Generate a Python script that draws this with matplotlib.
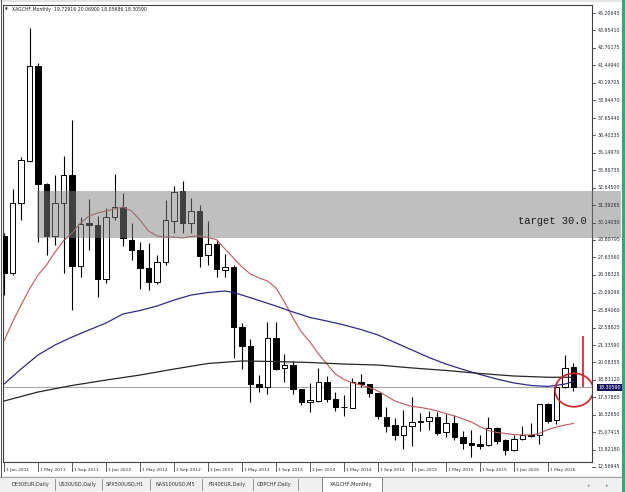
import matplotlib
matplotlib.use("Agg")
import matplotlib.pyplot as plt
from matplotlib.patches import Rectangle, Ellipse
from matplotlib.lines import Line2D
from matplotlib.transforms import blended_transform_factory

# ---------------- data (XAGCHF monthly, Jan 2011 .. Aug 2016) ----------------
opens = [29.18, 26.49, 31.53, 34.59, 41.42, 32.91, 29.18, 31.53, 33.56, 27.02,
         30.13, 29.96, 26.06, 30.52, 31.28, 28.89, 28.17, 26.85, 25.89, 27.28,
         30.25, 32.43, 30.09, 30.99, 27.79, 28.58, 26.73, 26.93, 22.65, 21.27,
         18.53, 18.34, 21.86, 19.66, 19.90, 18.15, 17.22, 17.34, 18.70, 17.48,
         16.90, 16.83, 18.66, 18.51, 17.87, 16.18, 15.59, 14.87, 15.54, 15.78,
         15.88, 16.18, 15.06, 15.75, 14.70, 14.27, 14.20, 14.15, 15.35, 14.51,
         13.79, 14.56, 14.87, 14.87, 17.08, 15.95, 18.30, 19.73]
highs = [29.40, 32.53, 34.88, 44.11, 41.63, 32.95, 33.56, 34.93, 37.51, 30.56,
         31.81, 30.61, 31.17, 33.63, 32.29, 30.09, 28.77, 28.69, 27.81, 31.76,
         32.77, 33.15, 31.89, 31.40, 30.28, 28.89, 27.88, 27.09, 22.90, 21.75,
         19.18, 23.01, 23.01, 20.69, 20.21, 18.20, 18.59, 19.66, 19.11, 17.98,
         17.74, 18.95, 19.23, 18.55, 17.90, 16.86, 16.07, 16.67, 17.58, 16.43,
         16.59, 16.54, 16.38, 16.31, 15.18, 15.23, 14.87, 16.14, 15.47, 14.56,
         14.87, 15.52, 15.75, 17.10, 17.19, 18.40, 20.62, 20.07]
lows = [24.93, 26.37, 30.33, 34.52, 28.77, 27.81, 28.53, 26.54, 23.86, 26.25,
        28.17, 24.77, 25.77, 30.33, 28.46, 27.45, 25.34, 25.29, 25.72, 27.09,
        29.37, 29.37, 29.37, 26.97, 27.09, 26.21, 26.25, 20.43, 19.59, 17.26,
        17.98, 17.82, 19.54, 18.70, 17.82, 17.03, 16.54, 17.26, 17.26, 16.62,
        16.24, 16.79, 18.34, 17.58, 16.00, 15.11, 14.51, 13.84, 14.08, 15.18,
        15.23, 14.87, 14.75, 14.51, 13.84, 13.27, 13.84, 14.08, 14.22, 13.43,
        13.74, 14.51, 14.70, 14.22, 15.75, 15.66, 18.23, 18.06]
closes = [26.49, 31.53, 34.64, 41.42, 32.91, 29.18, 31.53, 33.56, 27.02, 30.04,
          29.99, 26.06, 30.52, 31.28, 29.01, 28.17, 26.85, 25.89, 27.28, 30.33,
          32.36, 30.09, 30.99, 27.74, 28.58, 26.78, 26.93, 22.60, 21.27, 18.53,
          18.34, 21.86, 19.61, 19.90, 18.15, 17.26, 17.39, 18.70, 17.48, 16.86,
          16.86, 18.66, 18.51, 17.87, 16.24, 15.52, 14.87, 15.52, 15.82, 15.88,
          16.18, 15.03, 15.71, 14.70, 14.27, 14.15, 14.10, 15.35, 14.46, 13.79,
          14.56, 14.87, 14.80, 17.08, 15.90, 18.30, 19.66, 18.31]

red_ma = [21.63, 22.99, 24.21, 25.37, 26.37, 27.09, 28.02, 28.82, 29.39, 30.11,
          30.61, 30.83, 30.97, 31.12, 31.26, 30.97, 30.33, 29.53, 29.18, 29.10,
          29.10, 29.03, 29.14, 29.18, 29.07, 28.92, 28.24, 27.59, 26.95, 26.44,
          26.16, 25.94, 25.44, 24.43, 23.28, 22.27, 21.56, 20.69, 19.97, 19.25,
          18.86, 18.61, 18.46, 18.28, 18.03, 17.67, 17.31, 17.10, 16.92, 16.85,
          16.74, 16.59, 16.41, 16.24, 16.02, 15.80, 15.47, 15.19, 15.05, 14.98,
          14.90, 14.87, 14.87, 14.98, 15.26, 15.44, 15.59, 15.70]

blue_idx = [0, 2, 4, 6, 8, 10, 12, 14, 16, 18, 20, 22, 24, 26, 27, 28, 30, 32,
            34, 36, 38, 40, 42, 44, 46, 48, 50, 52, 54, 56, 58, 60, 62, 64, 66, 67]
blue_ma = [18.53, 19.61, 20.62, 21.34, 21.91, 22.42, 22.92, 23.57, 23.82, 24.14,
           24.57, 24.93, 25.11, 25.22, 25.11, 24.93, 24.54, 24.14, 23.71, 23.32,
           23.06, 22.78, 22.45, 22.06, 21.52, 20.98, 20.44, 19.97, 19.58, 19.22,
           18.89, 18.61, 18.43, 18.36, 18.53, 18.72]

dark_idx = [0, 4, 8, 12, 16, 20, 24, 28, 32, 36, 40, 44, 48, 52, 56, 60, 64, 67]
dark_ma = [17.31, 17.96, 18.43, 18.82, 19.18, 19.61, 20.01, 20.19, 20.15, 20.08,
           19.97, 19.90, 19.69, 19.51, 19.29, 19.11, 19.02, 19.02]

last_price = 18.30590
header = "XAGCHF,Monthly  19.72916 20.06900 18.05686 18.30590"

band_low, band_high = 29.01, 32.43
band_start = 3.88
target_label = "target 30.0"

arrow_x, arrow_top = 68.1, 21.99
circle_center = (67.08, 18.10)

price_labels = ["45.20645", "43.95410", "42.70175", "41.44940", "40.19705",
                "38.94470", "37.65440", "36.40335", "35.14970", "33.89735",
                "32.64500", "31.39265", "30.14030", "28.88795", "27.63560",
                "26.38325", "25.09296", "23.84060", "22.58825", "21.33590",
                "20.08355", "18.83120", "17.57885", "16.32650", "15.07415",
                "13.82180", "12.56945"]
date_pos = [0, 4, 8, 12, 16, 20, 24, 28, 32, 36, 40, 44, 48, 52, 56, 60, 64]
date_labels = ["1 Jan 2011", "1 May 2011", "1 Sep 2011", "1 Jan 2012", "1 May 2012",
               "1 Sep 2012", "1 Jan 2013", "1 May 2013", "1 Sep 2013", "1 Jan 2014",
               "1 May 2014", "1 Sep 2014", "1 Jan 2015", "1 May 2015", "1 Sep 2015",
               "1 Jan 2016", "1 May 2016"]
tabs = ["DE30EUR,Daily", "US30USD,Daily", "SPX500USD,H1", "NAS100USD,M5",
        "FR40EUR,Daily", "GBPCHF,Daily"]
active_tab = "XAGCHF,Monthly"

# ---------------- layout ----------------
W, H = 625, 492
fig = plt.figure(figsize=(W / 100, H / 100), dpi=100)
fig.patch.set_facecolor("white")


def fx(px):
    return px / W


def fy(py):
    return 1 - py / H


def prect(x0, y0, x1, y1, **kw):
    fig.add_artist(Rectangle((fx(x0), fy(y1)), fx(x1) - fx(x0), fy(y0) - fy(y1),
                             transform=fig.transFigure, **kw))


def pline(xs, ys, **kw):
    fig.add_artist(Line2D([fx(x) for x in xs], [fy(y) for y in ys],
                          transform=fig.transFigure, **kw))


AX_L, AX_R, AX_T, AX_B = 3, 592, 5, 462
ax = fig.add_axes([fx(AX_L), fy(AX_B), fx(AX_R) - fx(AX_L), fy(AX_T) - fy(AX_B)])
ax.set_xlim(-0.12, 69.18)
ax.set_ylim(12.928, 45.782)
ax.set_xticks([])
ax.set_yticks([])
for s in ax.spines.values():
    s.set_color("#404040")
    s.set_linewidth(0.8)

# current price line
ax.axhline(last_price, color="#a8a8a8", lw=0.8, zorder=2)

# candles
for i, (o, h, l, c) in enumerate(zip(opens, highs, lows, closes)):
    ax.vlines(i, l, h, color="black", lw=0.8, zorder=3)
    bottom = min(o, c)
    height = max(abs(c - o), 0.05)
    face = "white" if c >= o else "black"
    ax.add_patch(Rectangle((i - 0.3, bottom), 0.6, height, facecolor=face,
                           edgecolor="black", lw=0.7, zorder=4))

# moving averages
ax.plot(range(len(red_ma)), red_ma, color="#c05858", lw=0.8, zorder=5)
ax.plot(blue_idx, blue_ma, color="#2c2c8a", lw=0.9, zorder=5)
ax.plot(dark_idx, dark_ma, color="#262626", lw=0.9, zorder=5)

# target band (overlay)
ax.add_patch(Rectangle((band_start, band_low), 72.6 - band_start, band_high - band_low,
                       facecolor="#808080", alpha=0.5, edgecolor="none", zorder=6,
                       clip_on=False))
ax.text(68.55, 30.25, target_label, ha="right", va="center", family="Liberation Mono",
        fontsize=7.6, color="#1e1e1e", zorder=8)

# red annotations
ax.plot([arrow_x, arrow_x], [last_price, arrow_top], color="#e02828", lw=1.3,
        zorder=7, clip_on=False, solid_capstyle="butt")
ax.add_patch(Ellipse(circle_center, 4.5, 2.40, fill=False, edgecolor="#d02222",
                     lw=1.2, zorder=7))

# header
fig.text(fx(5), fy(9.5), "\u25BC", fontsize=2.6, color="#222222", va="center", ha="left")
fig.text(fx(11.5), fy(9.5), header, fontsize=3.3, color="#222222", va="center", ha="left")

# price scale
ty = blended_transform_factory(fig.transFigure, ax.transData)
for lab in price_labels:
    v = float(lab)
    fig.add_artist(Line2D([fx(592), fx(595)], [v, v], transform=ty, color="#404040", lw=0.6))
    fig.text(fx(597.5), v, lab, transform=ty, fontsize=3.4, color="#2a2a3a",
             va="center", ha="left")
fig.text(fx(598.5), last_price, "18.30590", transform=ty, fontsize=3.4, color="white",
         va="center", ha="left",
         bbox=dict(boxstyle="square,pad=0.25", facecolor="#151560", edgecolor="none"))

# time scale
tx = blended_transform_factory(ax.transData, fig.transFigure)
for pos, lab in zip(date_pos, date_labels):
    fig.add_artist(Line2D([pos, pos], [fy(462), fy(471)], transform=tx, color="#404040", lw=0.6))
    fig.text(pos + 0.22, fy(469.5), lab, transform=tx, fontsize=3.2, color="#2a2a3a",
             va="center", ha="left")

# window frame details
pline([0.5, 0.5], [0, 477], color="#505050", lw=0.7)
prect(0, 0, 625, 2, facecolor="#e4e4e4", edgecolor="none")
prect(622, 0, 625, 492, facecolor="#3aa57a", edgecolor="none")

# tab bar
prect(0, 476, 622, 492, facecolor="#f0f0f0", edgecolor="none")
pline([0, 622], [476.5, 476.5], color="#909090", lw=0.6)
tab_centers = [30, 78, 124.5, 175.5, 227, 274]
seps = [54.5, 101.5, 150, 201.5, 252.5, 298]
for c, t in zip(tab_centers, tabs):
    fig.text(fx(c), fy(484.5), t, fontsize=3.6, color="#303030", ha="center", va="center")
for sx in seps:
    pline([sx, sx], [479, 490], color="#8a8a8a", lw=0.6)
prect(321.5, 477, 382, 492, facecolor="white", edgecolor="#707070", lw=0.6)
fig.text(fx(351.5), fy(484.5), active_tab, fontsize=3.6, color="#202020",
         ha="center", va="center")
fig.text(fx(588), fy(486), "\u25C2", fontsize=3.5, color="#909090", ha="center", va="center")
fig.text(fx(607), fy(486), "\u25B8", fontsize=3.5, color="#909090", ha="center", va="center")

fig.savefig("out.png", dpi=100)
